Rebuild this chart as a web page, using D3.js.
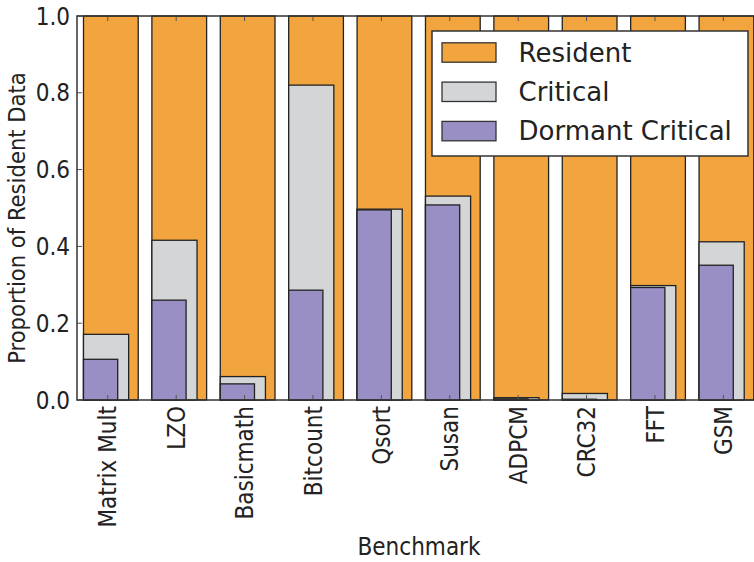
<!DOCTYPE html>
<html lang="en">
<head>
<meta charset="UTF-8">
<title>Resident data</title>
<style>
  body { margin: 0; background: #fff; }
  text { font-family: "DejaVu Sans", sans-serif; fill: #222; }
  .cond { font-family: "DejaVu Sans Condensed", "DejaVu Sans", sans-serif; }
</style>
</head>
<body>
<svg id="chart"></svg>
<script src="https://d3js.org/d3.v7.min.js"></script>
<script>
// data
const benchmarks = ['Matrix Mult', 'LZO', 'Basicmath', 'Bitcount', 'Qsort', 'Susan', 'ADPCM', 'CRC32', 'FFT', 'GSM'];
const resident = [1, 1, 1, 1, 1, 1, 1, 1, 1, 1];
const critical = [0.171, 0.416, 0.061, 0.820, 0.497, 0.531, 0.006, 0.017, 0.298, 0.412];
const dormant = [0.106, 0.260, 0.042, 0.286, 0.495, 0.508, 0.003, 0.002, 0.293, 0.351];
const yTicks = [0.0, 0.2, 0.4, 0.6, 0.8, 1.0];
const seriesNames = ['Resident', 'Critical', 'Dormant Critical'];

const W = 754, H = 562;
const margin = { top: 16, left: 77, bottom: 162 };
const colors = ['#f2a53f', '#d4d5d7', '#9a8fc4'];
const widths = [0.8, 0.66, 0.5];
const series = [resident, critical, dormant];

const svg = d3.select('#chart').attr('width', W).attr('height', H);

const x = d3.scaleLinear().domain([-0.45, 9.47]).range([margin.left, 755.5]);
const y = d3.scaleLinear().domain([0, 1]).range([H - margin.bottom, margin.top]);

// bars: all share the same left edge, drawn widest first
series.forEach((vals, s) => {
  svg.append('g')
    .selectAll('rect')
    .data(vals)
    .join('rect')
    .attr('x', (d, i) => x(i - 0.355))
    .attr('y', d => y(d))
    .attr('width', x(widths[s]) - x(0))
    .attr('height', d => y(0) - y(d))
    .attr('fill', colors[s])
    .attr('stroke', '#222')
    .attr('stroke-width', 1.3);
});

// inward ticks, top and bottom
const tickG = svg.append('g').attr('stroke', '#555').attr('stroke-width', 1);
benchmarks.forEach((b, i) => {
  tickG.append('line').attr('x1', x(i)).attr('x2', x(i)).attr('y1', y(0)).attr('y2', y(0) - 5);
  tickG.append('line').attr('x1', x(i)).attr('x2', x(i)).attr('y1', y(1)).attr('y2', y(1) + 5);
});
yTicks.forEach(t => {
  tickG.append('line').attr('x1', x.range()[0]).attr('x2', x.range()[0] + 5).attr('y1', y(t)).attr('y2', y(t));
});

// frame
svg.append('rect')
  .attr('x', x.range()[0]).attr('y', y(1))
  .attr('width', x.range()[1] - x.range()[0]).attr('height', y(0) - y(1))
  .attr('fill', 'none').attr('stroke', '#333').attr('stroke-width', 1.5);

// y tick labels
svg.append('g')
  .selectAll('text')
  .data(yTicks)
  .join('text')
  .attr('class', 'cond')
  .attr('x', 70)
  .attr('y', d => y(d))
  .attr('dy', '0.36em')
  .attr('text-anchor', 'end')
  .attr('font-size', 24)
  .text(d => d.toFixed(1));

// x tick labels, rotated
svg.append('g')
  .selectAll('text')
  .data(benchmarks)
  .join('text')
  .attr('class', 'cond')
  .attr('transform', (d, i) => `translate(${x(i)},${y(0) + 6}) rotate(-90)`)
  .attr('dy', '0.36em')
  .attr('text-anchor', 'end')
  .attr('font-size', 24)
  .text(d => d);

// axis titles
svg.append('text')
  .attr('class', 'cond')
  .attr('x', 419).attr('y', 555)
  .attr('text-anchor', 'middle')
  .attr('font-size', 24)
  .text('Benchmark');

svg.append('text')
  .attr('class', 'cond')
  .attr('transform', `translate(25,${(y(0) + y(1)) / 2 + 10}) rotate(-90)`)
  .attr('text-anchor', 'middle')
  .attr('font-size', 23.5)
  .text('Proportion of Resident Data');

// legend
const legend = svg.append('g').attr('transform', 'translate(432,31)');
legend.append('rect')
  .attr('width', 316).attr('height', 125)
  .attr('fill', '#fff').attr('stroke', '#333').attr('stroke-width', 1.5);
seriesNames.forEach((name, k) => {
  const cy = 21.5 + k * 39.3;
  legend.append('rect')
    .attr('x', 10).attr('y', cy - 9.7)
    .attr('width', 54).attr('height', 19.4)
    .attr('fill', colors[k]).attr('stroke', '#333').attr('stroke-width', 1.3);
  legend.append('text')
    .attr('x', 86.5).attr('y', cy)
    .attr('dy', '0.36em')
    .attr('font-size', 26)
    .text(name);
});
</script>
</body>
</html>
